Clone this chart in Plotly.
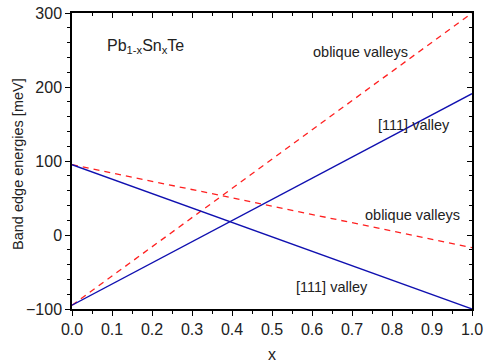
import plotly.graph_objects as go

x_ends = [0.0, 1.0]
l111_rising = [-95, 191]
l111_falling = [95, -100]
obl_rising = [-95, 300]
obl_falling = [95, -17]

x_ticks = [0.0, 0.1, 0.2, 0.3, 0.4, 0.5, 0.6, 0.7, 0.8, 0.9, 1.0]
x_tick_text = ["0.0", "0.1", "0.2", "0.3", "0.4", "0.5", "0.6", "0.7", "0.8", "0.9", "1.0"]
y_ticks = [-100, 0, 100, 200, 300]

blue = "#1010b0"
red = "#ff2020"
font = "Liberation Sans, Arial, sans-serif"

fig = go.Figure()
fig.add_trace(go.Scatter(x=x_ends, y=obl_rising, mode="lines",
                         line=dict(color=red, width=1.3, dash="6px,5px")))
fig.add_trace(go.Scatter(x=x_ends, y=obl_falling, mode="lines",
                         line=dict(color=red, width=1.3, dash="6px,5px")))
fig.add_trace(go.Scatter(x=x_ends, y=l111_rising, mode="lines",
                         line=dict(color=blue, width=1.3)))
fig.add_trace(go.Scatter(x=x_ends, y=l111_falling, mode="lines", xaxis="x2", yaxis="y2",
                         line=dict(color=blue, width=1.3)))

annots = [
    dict(x=0.082, y=255, text="Pb<sub>1-x</sub>Sn<sub>x</sub>Te", xanchor="left", size=16),
    dict(x=0.72, y=247, text="oblique valleys", xanchor="center", size=14.5),
    dict(x=0.855, y=148, text="[111] valley", xanchor="center", size=14.5),
    dict(x=0.85, y=27, text="oblique valleys", xanchor="center", size=14.5),
    dict(x=0.65, y=-70, text="[111] valley", xanchor="center", size=14.5),
]
for a in annots:
    fig.add_annotation(x=a["x"], y=a["y"], text=a["text"], showarrow=False,
                       xanchor=a["xanchor"], yanchor="middle",
                       font=dict(family=font, size=a["size"], color="#222222"))

# y-axis title placed as paper annotation for precise position
fig.add_annotation(xref="paper", yref="paper", x=0, y=0.49, xshift=-54,
                   text="Band edge energies [meV]", textangle=-90, showarrow=False,
                   xanchor="center", yanchor="middle",
                   font=dict(family=font, size=14.5, color="#222222"))

axis_common = dict(showgrid=False, zeroline=False, showline=True, linecolor="black",
                   linewidth=1.5, mirror=True, ticks="outside", ticklen=5,
                   tickwidth=1.2, tickcolor="black", automargin=False,
                   tickfont=dict(family=font, size=16, color="#222222"))

fig.update_layout(
    xaxis=dict(range=[0, 1], tickvals=x_ticks, ticktext=x_tick_text,
               minor=dict(ticks="outside", dtick=0.05, ticklen=3, tickcolor="black"),
               title=dict(text="x", font=dict(family=font, size=16, color="#222222"), standoff=14),
               **axis_common),
    yaxis=dict(range=[-100, 300], tickvals=y_ticks,
               minor=dict(ticks="outside", dtick=20, ticklen=3, tickcolor="black"),
               **axis_common),
    xaxis2=dict(overlaying="x", side="top", range=[0, 1], tickvals=x_ticks,
                showticklabels=False, showgrid=False, zeroline=False, showline=False,
                ticks="inside", ticklen=5, tickwidth=1.2, tickcolor="black",
                minor=dict(ticks="inside", dtick=0.05, ticklen=3, tickcolor="black"),
                automargin=False, anchor="y2"),
    yaxis2=dict(overlaying="y", side="right", range=[-100, 300], tickvals=y_ticks,
                showticklabels=False, showgrid=False, zeroline=False, showline=False,
                ticks="inside", ticklen=5, tickwidth=1.2, tickcolor="black",
                minor=dict(ticks="inside", dtick=20, ticklen=3, tickcolor="black"),
                automargin=False, anchor="x2"),
)

fig.update_layout(width=484, height=363, showlegend=False,
                  plot_bgcolor="white", paper_bgcolor="white",
                  margin=dict(l=72, r=12, t=13, b=54))

fig.write_html("out.html", config={"displayModeBar": False},
               post_script="document.body.style.margin='0';document.body.style.overflow='hidden';")
